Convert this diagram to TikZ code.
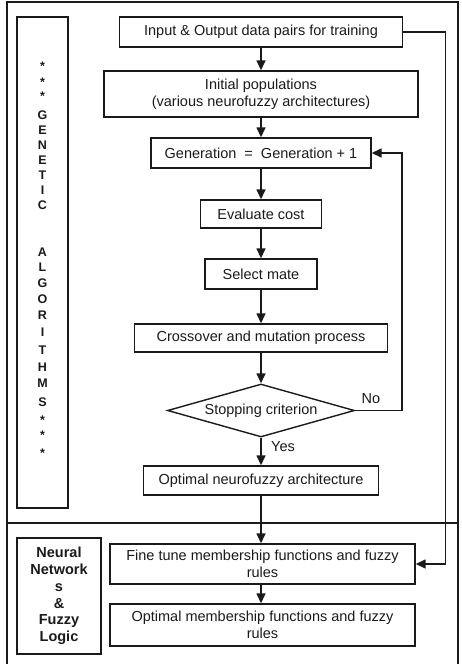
\documentclass[tikz,border=0pt]{standalone}
\usepackage{fontspec}
\setmainfont{Liberation Sans}
\usetikzlibrary{shapes.geometric,arrows.meta}
\definecolor{ink}{HTML}{1A1A1A}
\begin{document}
\begin{tikzpicture}[x=1pt,y=-1pt,
  box/.style={draw=ink,line width=1.4pt,rectangle,inner sep=2pt,align=center,text=ink,
    font=\fontsize{14.5}{16.7}\selectfont},
  dec/.style={draw=ink,line width=1.4pt,diamond,aspect=3.5,inner sep=0pt,text=ink,
    font=\fontsize{14.5}{16.7}\selectfont,minimum width=187pt,minimum height=53pt},
  flow/.style={draw=ink,line width=1.5pt,-{Triangle[length=10pt,width=9pt]}},
  lbl/.style={text=ink,font=\fontsize{14.5}{16.7}\selectfont,inner sep=0pt},
  galetter/.style={text=ink,font=\fontsize{12.5}{14}\bfseries\selectfont,inner sep=0pt,anchor=base},
  frame/.style={draw=ink,line width=2pt}
]
\useasboundingbox (0,0) rectangle (461,664);

% outer frame and separator
\draw[frame] (6.5,664) -- (6.5,1.5) -- (457.5,1.5) -- (457.5,664);
\draw[frame] (6.5,523) -- (457.5,523);

% side boxes
\node[box,minimum width=51pt,minimum height=491pt] (gabox) at (42.5,262.5) {};
\node[box,font=\fontsize{14.5}{16.7}\bfseries\selectfont,minimum width=84pt,minimum height=116pt]
  (nnbox) at (59,596) {Neural\\Network\\s\\\&\\Fuzzy\\Logic};

% GA vertical text
\foreach \ch/\yy [count=\i] in {*/70,*/86,*/100,G/119.5,E/134.5,N/149.5,E/164.5,T/179.5,I/194.5,C/209.5,
  A/256.5,L/271.5,G/287.5,O/303.5,R/319.5,I/336.5,T/354.5,H/371.5,M/387.5,S/406.5,*/424,*/439,*/457}
  \node[galetter] (ga\i) at (42.5,\yy) {\ch};

% main flow
\node[box,minimum width=283pt,minimum height=30pt] (inp) at (261,32) {Input \& Output data pairs for training};
\node[box,minimum width=314pt,minimum height=46pt] (init) at (261,94) {Initial populations\\(various neurofuzzy architectures)};
\node[box,minimum width=220pt,minimum height=30pt] (gen) at (261,153) {Generation \ = \ Generation + 1};
\node[box,minimum width=121pt,minimum height=28pt] (eval) at (261,214) {Evaluate cost};
\node[box,minimum width=112pt,minimum height=30pt] (sel) at (261,274) {Select mate};
\node[box,minimum width=253pt,minimum height=28pt] (cross) at (261,338) {Crossover and mutation process};
\node[dec] (stop) at (261,410.5) {Stopping criterion};
\node[box,minimum width=235pt,minimum height=29pt] (opt) at (261,480.5) {Optimal neurofuzzy architecture};
\node[box,minimum width=305pt,minimum height=40pt] (fine) at (262.5,564) {Fine tune membership functions and fuzzy\\rules};
\node[box,minimum width=305pt,minimum height=42pt] (optm) at (262.5,625) {Optimal membership functions and fuzzy\\rules};

% connectors
\draw[flow] (inp) -- (init);
\draw[flow] (init) -- (gen);
\draw[flow] (gen) -- (eval);
\draw[flow] (eval) -- (sel);
\draw[flow] (sel) -- (cross);
\draw[flow] (cross) -- (stop);
\draw[flow] (stop) -- (opt);
\draw[flow] (opt.south) -- (opt.south |- fine.north);
\draw[flow] (fine.south -| opt.south) -- (optm.north -| opt.south);

\coordinate (nocorner) at (402,410.5);
\draw[flow] (stop.east) -- (nocorner) |- (gen.east);
\coordinate (inpcorner) at (445.5,32);
\draw[flow] (inp.east) -- (inpcorner) |- (fine.east);

\node[lbl] (nolbl) at (371,399) {No};
\node[lbl] (yeslbl) at (283,447) {Yes};
\end{tikzpicture}
\end{document}
